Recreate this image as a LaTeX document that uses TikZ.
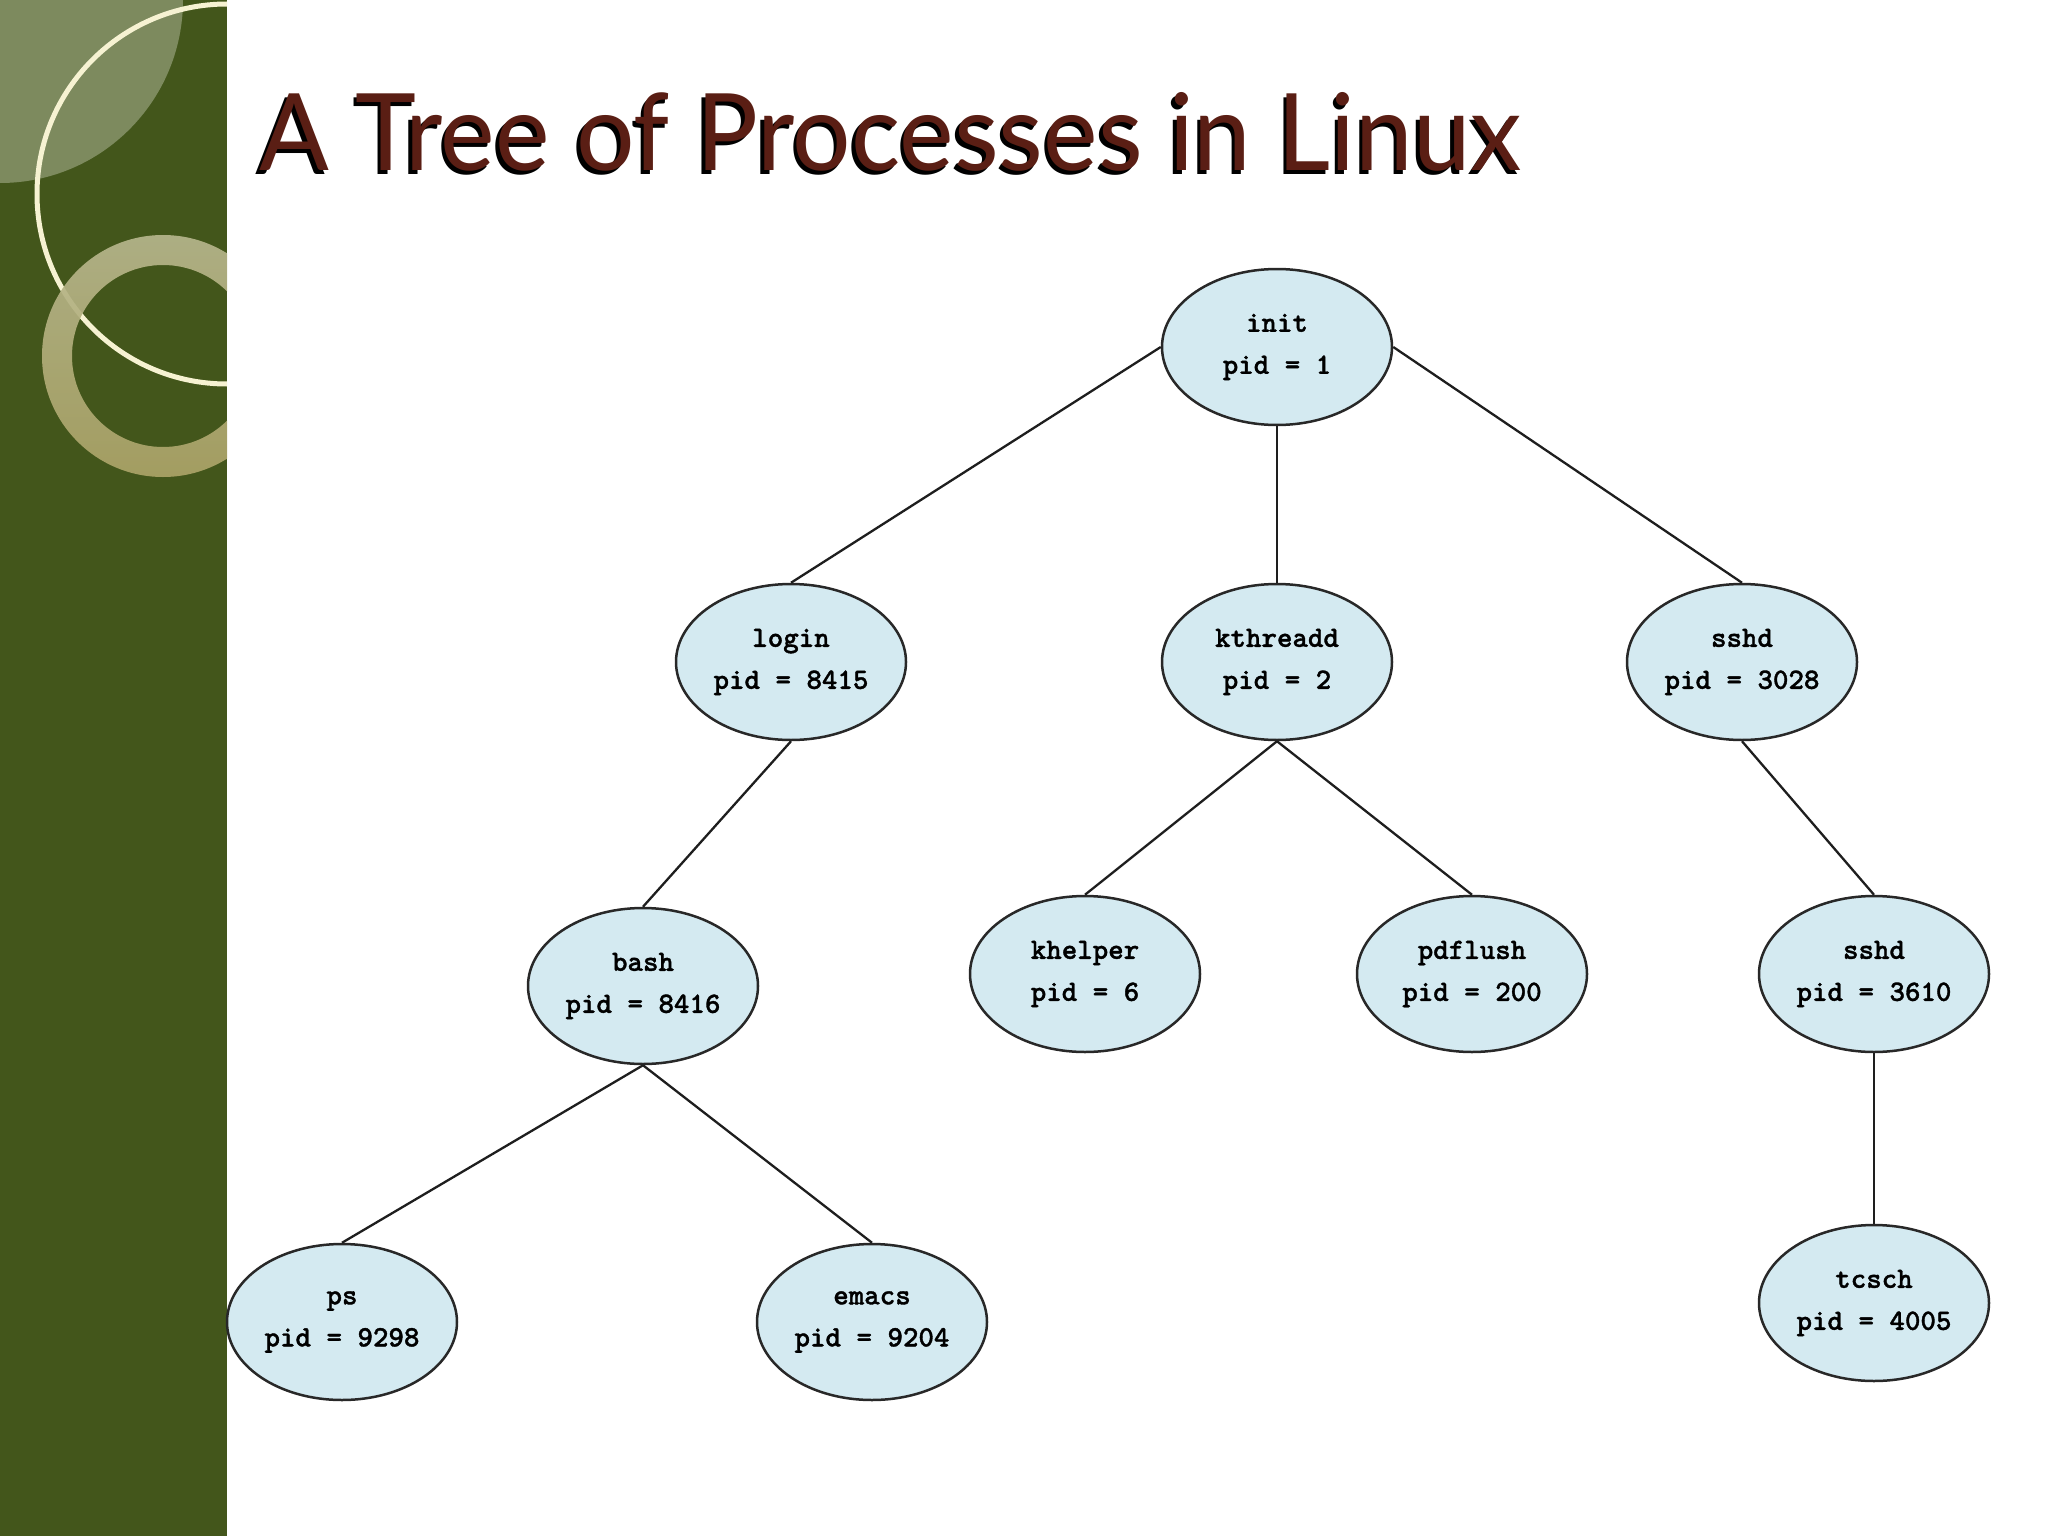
\documentclass[tikz,border=0pt]{standalone}
\usepackage{fontspec}
\usepackage{graphicx}
\usetikzlibrary{shapes.geometric}
\newfontfamily\titlefont{Lato}
\newfontfamily\nodefont{lmmonolt10-bold.otf}[FakeBold=1.2]
\definecolor{sidegreen}{RGB}{67,86,27}
\definecolor{lightolive}{RGB}{125,138,94}
\definecolor{creamline}{RGB}{246,242,210}
\definecolor{ringtop}{RGB}{182,182,140}
\definecolor{ringbot}{RGB}{172,164,104}
\definecolor{titlebrown}{RGB}{90,30,20}
\definecolor{nodefill}{RGB}{212,234,241}
\definecolor{nodeline}{RGB}{40,40,40}
\definecolor{edgecol}{RGB}{30,30,30}
\begin{document}
\begin{tikzpicture}[x=1pt,y=-1pt,
  proc/.style={ellipse, draw=nodeline, line width=2.5pt, fill=nodefill,
    minimum width=230pt, minimum height=156pt, inner sep=0pt, align=center,
    font=\nodefont\fontsize{29.5}{42}\selectfont},
  edge/.style={draw=edgecol, line width=2.3pt}]
\useasboundingbox (0,0) rectangle (2048,1536);
\fill[white] (0,0) rectangle (2048,1536);
% sidebar
\fill[sidegreen] (0,0) rectangle (227,1536);
\begin{scope}
  \clip (0,0) rectangle (227,1536);
  \fill[lightolive] (0,0) circle (183pt);
  \draw[creamline, line width=5pt] (227,194) circle (190pt);
  \shade[top color=ringtop, bottom color=ringbot, even odd rule, opacity=0.92]
    (163,356) circle (121pt) (163,356) circle (91pt);
\end{scope}
% title
\node[anchor=south west, inner sep=0pt, text=black] (titleshadow) at (255.5,175.5)
  {\resizebox{1262pt}{78pt}{\titlefont A Tree of Processes in Linux}};
\node[anchor=south west, inner sep=0pt, text=titlebrown] (title) at (259,172)
  {\resizebox{1262pt}{78pt}{\titlefont A Tree of Processes in Linux}};
% nodes
\node[proc] (init) at (1277,347) {init\\pid = 1};
\node[proc] (login) at (791,662) {login\\pid = 8415};
\node[proc] (kthreadd) at (1277,662) {kthreadd\\pid = 2};
\node[proc] (sshd) at (1742,662) {sshd\\pid = 3028};
\node[proc] (bash) at (643,986) {bash\\pid = 8416};
\node[proc] (khelper) at (1085,974) {khelper\\pid = 6};
\node[proc] (pdflush) at (1472,974) {pdflush\\pid = 200};
\node[proc] (sshdb) at (1874,974) {sshd\\pid = 3610};
\node[proc] (ps) at (342,1322) {ps\\pid = 9298};
\node[proc] (emacs) at (872,1322) {emacs\\pid = 9204};
\node[proc] (tcsch) at (1874,1303) {tcsch\\pid = 4005};
% edges
\draw[edge] (init.west) -- (login.north);
\draw[edge] (init.south) -- (kthreadd.north);
\draw[edge] (init.east) -- (sshd.north);
\draw[edge] (login.south) -- (bash.north);
\draw[edge] (kthreadd.south) -- (khelper.north);
\draw[edge] (kthreadd.south) -- (pdflush.north);
\draw[edge] (sshd.south) -- (sshdb.north);
\draw[edge] (sshdb.south) -- (tcsch.north);
\draw[edge] (bash.south) -- (ps.north);
\draw[edge] (bash.south) -- (emacs.north);
\end{tikzpicture}
\end{document}
